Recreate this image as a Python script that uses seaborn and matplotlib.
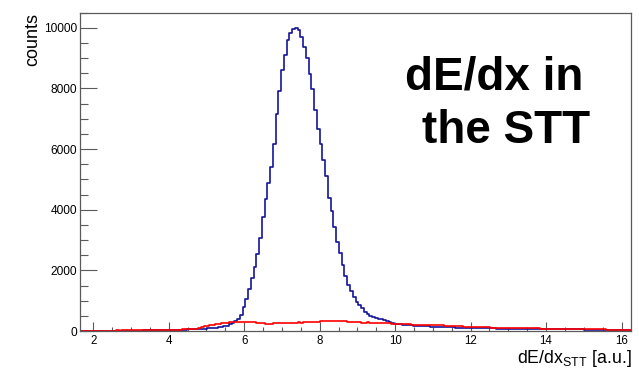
import numpy as np
import pandas as pd
import seaborn as sns
import matplotlib
matplotlib.use("Agg")
import matplotlib.pyplot as plt
from matplotlib.ticker import MultipleLocator

# Histogram binning: 200 equal bins covering the dE/dx axis range
x_min, x_max, n_bins = 1.65, 16.25, 200
bin_width = (x_max - x_min) / n_bins
centers = x_min + bin_width * (np.arange(n_bins) + 0.5)

# Counts per bin, ten bins per row
counts_blue = [
    2, 3, 2, 3, 4, 3, 4, 5, 4, 5,
    6, 5, 7, 6, 8, 7, 9, 10, 11, 12,
    13, 14, 15, 17, 18, 19, 21, 23, 25, 27,
    29, 31, 33, 35, 38, 40, 43, 46, 49, 52,
    55, 58, 62, 66, 70, 76, 88, 95, 104, 115,
    128, 140, 152, 180, 215, 260, 320, 400, 520, 780,
    1050, 1400, 1750, 2100, 2550, 3080, 3750, 4350, 4880, 5400,
    6150, 7150, 7900, 8600, 9100, 9600, 9820, 9950, 10000, 9930,
    9700, 9370, 8990, 8480, 7970, 7300, 6650, 6150, 5640, 5100,
    4400, 3950, 3420, 2920, 2560, 2180, 1800, 1530, 1310, 1120,
    950, 850, 750, 640, 570, 500, 460, 430, 410, 390,
    350, 330, 290, 262, 235, 225, 215, 205, 198, 190,
    182, 176, 170, 165, 160, 155, 151, 148, 145, 142,
    139, 133, 130, 126, 120, 118, 112, 111, 105, 104,
    100, 98, 95, 93, 92, 90, 88, 87, 85, 84,
    83, 82, 80, 79, 78, 76, 75, 73, 71, 70,
    68, 67, 65, 64, 62, 61, 60, 60, 59, 58,
    57, 57, 56, 56, 55, 55, 54, 54, 53, 52,
    52, 51, 50, 49, 49, 48, 47, 46, 46, 45,
    44, 43, 43, 42, 41, 41, 40, 40, 39, 38,
]
counts_red = [
    10, 12, 11, 13, 12, 14, 12, 15, 14, 13,
    15, 16, 15, 17, 16, 18, 17, 19, 18, 20,
    19, 21, 22, 21, 23, 24, 26, 25, 28, 30,
    31, 33, 35, 38, 40, 44, 47, 50, 54, 58,
    62, 68, 80, 105, 120, 150, 170, 195, 200, 225,
    245, 250, 270, 265, 290, 300, 295, 305, 300, 290,
    300, 295, 285, 290, 280, 275, 260, 235, 220, 240,
    250, 255, 262, 258, 270, 265, 280, 272, 268, 285,
    280, 290, 285, 300, 295, 305, 310, 320, 315, 330,
    340, 335, 345, 330, 325, 335, 320, 310, 300, 305,
    290, 295, 280, 275, 285, 270, 265, 275, 260, 270,
    262, 255, 250, 245, 240, 236, 232, 228, 222, 218,
    214, 210, 206, 210, 200, 196, 198, 190, 186, 192,
    188, 182, 176, 180, 170, 166, 162, 158, 152, 148,
    145, 140, 138, 135, 130, 128, 124, 120, 118, 115,
    114, 112, 110, 108, 106, 104, 102, 100, 98, 96,
    95, 93, 92, 90, 88, 86, 84, 82, 80, 78,
    76, 73, 70, 68, 66, 64, 62, 60, 59, 58,
    57, 56, 55, 55, 54, 53, 52, 52, 51, 50,
    50, 49, 48, 48, 47, 46, 46, 45, 44, 44,
]

x_ticks = [2, 4, 6, 8, 10, 12, 14, 16]
y_ticks = [0, 2000, 4000, 6000, 8000, 10000]
y_label = "counts"
x_label = r"dE/dx$_{\mathrm{STT}}$ [a.u.]"
title_lines = ["dE/dx in", "the STT"]

sns.set_style("white")
plt.rcParams["font.family"] = ["Liberation Sans", "DejaVu Sans"]
plt.rcParams["text.color"] = "black"
plt.rcParams["mathtext.fontset"] = "custom"
plt.rcParams["mathtext.rm"] = "Liberation Sans"
plt.rcParams["mathtext.it"] = "Liberation Sans:italic"

W, H = 639, 368
fig = plt.figure(figsize=(W / 100, H / 100), dpi=100)
ax = fig.add_axes([80 / W, (H - 331) / H, (631 - 80) / W, (331 - 12.5) / H])

df_blue = pd.DataFrame({"x": centers, "w": counts_blue})
df_red = pd.DataFrame({"x": centers, "w": counts_red})

hist_kws = dict(x="x", weights="w", bins=n_bins, binrange=(x_min, x_max),
                element="step", fill=False, linewidth=1.2, ax=ax)
sns.histplot(data=df_blue, color="#14149c", **hist_kws)
sns.histplot(data=df_red, color="#ff0000", **hist_kws)

ax.set_xlim(x_min, x_max)
ax.set_ylim(0, 10500)
ax.set_xlabel("")
ax.set_ylabel("")

frame_col = "#5a5a5a"
for side in ["left", "right", "top", "bottom"]:
    ax.spines[side].set_visible(True)
    ax.spines[side].set_color(frame_col)
    ax.spines[side].set_linewidth(0.9)

ax.set_xticks(x_ticks)
ax.set_yticks(y_ticks)
ax.xaxis.set_minor_locator(MultipleLocator(0.5))
ax.yaxis.set_minor_locator(MultipleLocator(500))
ax.tick_params(axis="x", which="major", direction="in", length=6.2, width=0.8,
               color=frame_col, labelcolor="black", labelsize=8.3, pad=3,
               bottom=True, top=False)
ax.tick_params(axis="x", which="minor", direction="in", length=3, width=0.8,
               color=frame_col, bottom=True, top=False)
ax.tick_params(axis="y", which="major", direction="in", length=12, width=0.8,
               color=frame_col, labelcolor="black", labelsize=8.6, pad=2,
               left=True, right=False)
ax.tick_params(axis="y", which="minor", direction="in", length=6, width=0.8,
               color=frame_col, left=True, right=False)


def px(x, y):
    return x / W, 1 - y / H


fig.text(*px(37.5, 13), y_label, rotation=90, rotation_mode="anchor",
         ha="right", va="baseline", fontsize=13, color="black")
fig.text(*px(632, 363), x_label, ha="right", va="baseline", fontsize=12.8,
         color="black")

fig.text(*px(494, 90), title_lines[0], ha="center", va="baseline",
         fontsize=33, fontweight="bold", color="black")
fig.text(*px(506, 143), title_lines[1], ha="center", va="baseline",
         fontsize=33, fontweight="bold", color="black")

fig.savefig("out.png", dpi=100, facecolor="white")
